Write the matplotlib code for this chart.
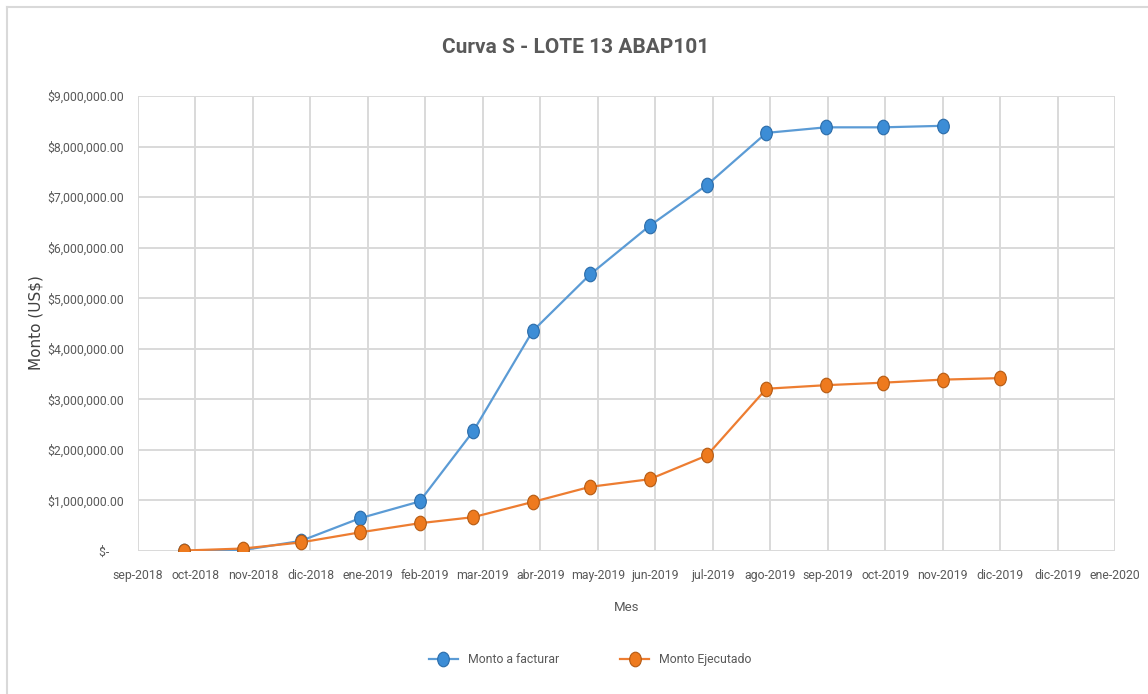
import numpy as np
import pandas as pd
import matplotlib
matplotlib.use('Agg')
import matplotlib.pyplot as plt
from matplotlib.markers import MarkerStyle
from matplotlib.transforms import Affine2D
from matplotlib.lines import Line2D
from matplotlib.ticker import FuncFormatter

# datos (primer dia de cada mes)
fechas_facturar = ['2018-10-01', '2018-11-01', '2018-12-01', '2019-01-01', '2019-02-01',
                   '2019-03-01', '2019-04-01', '2019-05-01', '2019-06-01', '2019-07-01',
                   '2019-08-01', '2019-09-01', '2019-10-01', '2019-11-01']
monto_facturar = [0, 20000, 200000, 650000, 980000, 2370000, 4350000, 5470000,
                  6430000, 7240000, 8270000, 8380000, 8380000, 8410000]

fechas_ejecutado = ['2018-10-01', '2018-11-01', '2018-12-01', '2019-01-01', '2019-02-01',
                    '2019-03-01', '2019-04-01', '2019-05-01', '2019-06-01', '2019-07-01',
                    '2019-08-01', '2019-09-01', '2019-10-01', '2019-11-01', '2019-12-01']
monto_ejecutado = [10000, 50000, 170000, 370000, 550000, 670000, 970000, 1270000,
                   1420000, 1890000, 3210000, 3280000, 3330000, 3390000, 3420000]

# eje de fechas de excel: inicio y unidad mayor de 30 dias
inicio_eje = '2018-09-07'
etiquetas_x = ['sep-2018', 'oct-2018', 'nov-2018', 'dic-2018', 'ene-2019', 'feb-2019',
               'mar-2019', 'abr-2019', 'may-2019', 'jun-2019', 'jul-2019', 'ago-2019',
               'sep-2019', 'oct-2019', 'nov-2019', 'dic-2019', 'dic-2019', 'ene-2020']
ticks_y = [0, 1000000, 2000000, 3000000, 4000000, 5000000, 6000000, 7000000, 8000000, 9000000]

fuente = ['Roboto', 'DejaVu Sans']
gris = '#595959'

fig = plt.figure(figsize=(11.48, 6.94), dpi=100)
ax = fig.add_axes([0.1202, 0.206, 0.8511, 0.6557])

ticks_x = pd.date_range(start=inicio_eje, periods=len(etiquetas_x), freq='30D')

# marcador eliptico (las bolitas de excel)
bola = MarkerStyle('o', transform=Affine2D().scale(0.8, 1.0))

x1 = pd.to_datetime(fechas_facturar)
x2 = pd.to_datetime(fechas_ejecutado)
ax.plot(x1, monto_facturar, color='#5B9BD5', lw=1.6, marker=bola, markersize=10.5,
        markerfacecolor='#3C8DD6', markeredgecolor='#2A6BA8', markeredgewidth=0.8,
        label='Monto a facturar', zorder=3)
ax.plot(x2, monto_ejecutado, color='#ED7D31', lw=1.6, marker=bola, markersize=10.5,
        markerfacecolor='#EE7A1E', markeredgecolor='#B45A12', markeredgewidth=0.8,
        label='Monto Ejecutado', zorder=3)

ax.set_xlim(ticks_x[0], ticks_x[-1])
ax.set_ylim(0, 9000000)
ax.set_xticks(ticks_x)
ax.set_xticklabels(etiquetas_x)
ax.set_yticks(ticks_y)


def formato_dolar(v, pos):
    if v == 0:
        return '$-     '
    return '${:,.2f}'.format(v)


ax.yaxis.set_major_formatter(FuncFormatter(formato_dolar))
ax.grid(True, color='#D9D9D9', lw=1.4)
ax.set_axisbelow(True)
for s in ax.spines.values():
    s.set_visible(False)
ax.tick_params(length=0, colors=gris, labelsize=8.8)
ax.tick_params(axis='x', pad=13)
ax.tick_params(axis='y', pad=10)
for t in ax.get_xticklabels() + ax.get_yticklabels():
    t.set_family(fuente)

fig.text(0.501, 0.931, 'Curva S - LOTE 13 ABAP101', ha='center', va='center',
         fontsize=15, fontweight='bold', color=gris, family=fuente)
fig.text(0.546, 0.125, 'Mes', ha='center', va='center', fontsize=9.5,
         color=gris, family=fuente)
fig.text(0.031, 0.535, 'Monto (US$)', ha='center', va='center', rotation=90,
         fontsize=11, color='#404040', family='DejaVu Sans')

leg = ax.legend(loc='center', bbox_to_anchor=(0.514, 0.049), bbox_transform=fig.transFigure,
                ncol=2, frameon=False, columnspacing=5, handlelength=2.4,
                prop={'family': fuente, 'size': 8.8})
for t in leg.get_texts():
    t.set_color(gris)

# borde del area del grafico
fig.add_artist(Line2D([0.0065, 0.0065], [0.0, 0.99], color='#D9D9D9', lw=1.5,
                      transform=fig.transFigure))
fig.add_artist(Line2D([0.0065, 1.0], [0.99, 0.99], color='#D9D9D9', lw=1.5,
                      transform=fig.transFigure))

fig.savefig('out.png', dpi=100)
